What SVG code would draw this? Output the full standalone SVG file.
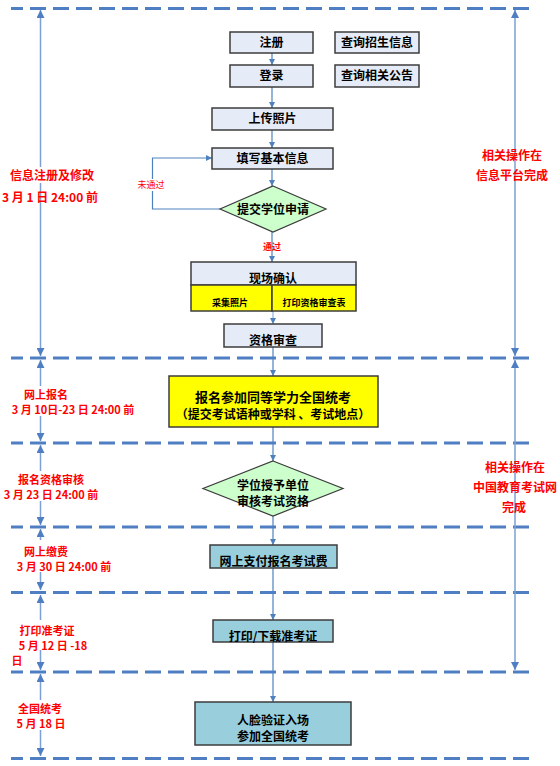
<svg xmlns="http://www.w3.org/2000/svg" width="560" height="766" viewBox="0 0 560 766">
<defs>
<style>
.dash{stroke:#4F7EC2;stroke-width:3;stroke-dasharray:16 7;stroke-dashoffset:4;fill:none}
.span{stroke:#7B9FD6;stroke-width:1.5;fill:none;marker-start:url(#ah);marker-end:url(#ah)}
.con{stroke:#4F81BD;stroke-width:1.2;fill:none;marker-end:url(#sa)}
.box{fill:#E6ECF7;stroke:#3C3C3C;stroke-width:1.5}
.teal{fill:#99CFDD;stroke:#3C3C3C;stroke-width:1.5}
.yel{fill:#FFFF00;stroke:#3C3C3C;stroke-width:1.5}
.dia{fill:#CCFFCC;stroke:#3C3C3C;stroke-width:1.2}
text{font-family:"Noto Sans CJK SC","Noto Sans",sans-serif}
.t{font-size:12px;font-weight:bold;fill:#000;text-anchor:middle}
.t13{font-size:13px;font-weight:bold;fill:#000;text-anchor:middle}
.s{font-size:9px;font-weight:bold;fill:#000;text-anchor:middle}
.r{font-size:12px;font-weight:bold;fill:#FF0000;text-anchor:middle}
.rl{font-size:11px;font-weight:bold;fill:#FF0000;text-anchor:middle}
.rs{font-size:9px;fill:#FF0000;text-anchor:middle}
.wb{fill:#FFFFFF}
</style>
<marker id="ah" viewBox="0 0 8 8" refX="8" refY="4" markerWidth="8" markerHeight="8" markerUnits="userSpaceOnUse" orient="auto-start-reverse"><path d="M0,0 L8,4 L0,8 z" fill="#4F7EC2"/></marker>
<marker id="sa" viewBox="0 0 6 6" refX="6" refY="3" markerWidth="6" markerHeight="6" markerUnits="userSpaceOnUse" orient="auto"><path d="M0,0 L6,3 L0,6 z" fill="#4F81BD"/></marker>
</defs>

<g id="guides">
<line class="dash" x1="11" y1="8.5" x2="534" y2="8.5"/>
<line class="dash" x1="11" y1="358" x2="534" y2="358"/>
<line class="dash" x1="11" y1="443" x2="534" y2="443"/>
<line class="dash" x1="11" y1="527" x2="534" y2="527"/>
<line class="dash" x1="11" y1="592.5" x2="534" y2="592.5"/>
<line class="dash" x1="11" y1="672" x2="534" y2="672"/>
<line class="dash" x1="11" y1="758.5" x2="534" y2="758.5"/>
</g>

<g id="spans">
<line class="span" x1="40.5" y1="10" x2="40.5" y2="356"/>
<line class="span" x1="40.5" y1="360" x2="40.5" y2="441"/>
<line class="span" x1="40.5" y1="445" x2="40.5" y2="525"/>
<line class="span" x1="40.5" y1="529" x2="40.5" y2="590"/>
<line class="span" x1="40.5" y1="595" x2="40.5" y2="670"/>
<line class="span" x1="40.5" y1="674" x2="40.5" y2="756"/>
<line class="span" x1="515" y1="10" x2="515" y2="356"/>
<line class="span" x1="515" y1="360" x2="515" y2="670"/>
</g>

<g id="left-labels">
<rect class="wb" x="10" y="167" width="84" height="16"/>
<text class="r" x="52" y="180">信息注册及修改</text>
<text class="r" x="50" y="202">3 月 1 日 24:00 前</text>
<rect class="wb" x="20" y="386" width="52" height="16"/>
<rect class="wb" x="8" y="402" width="132" height="14"/>
<text class="rl" x="46" y="399">网上报名</text>
<text class="rl" x="73" y="414">3 月 10日-23 日 24:00 前</text>
<rect class="wb" x="14" y="471" width="76" height="30"/>
<text class="rl" x="51" y="484">报名资格审核</text>
<text class="rl" x="51" y="499">3 月 23 日 24:00 前</text>
<rect class="wb" x="20" y="540" width="52" height="32"/>
<text class="rl" x="46" y="556">网上缴费</text>
<text class="rl" x="64" y="571">3 月 30 日 24:00 前</text>
<rect class="wb" x="14" y="620" width="82" height="30"/>
<text class="rl" x="47" y="635">打印准考证</text>
<text class="rl" x="53" y="650">5 月 12 日 -18</text>
<text class="rl" x="17" y="665">日</text>
<rect class="wb" x="14" y="700" width="56" height="30"/>
<text class="rl" x="40" y="713">全国统考</text>
<text class="rl" x="41" y="728">5 月 18 日</text>
</g>

<g id="right-labels">
<text class="r" x="512" y="160">相关操作在</text>
<text class="r" x="512" y="180">信息平台完成</text>
<text class="r" x="515" y="472">相关操作在</text>
<text class="r" x="515" y="492">中国教育考试网</text>
<text class="r" x="514" y="512">完成</text>
</g>

<g id="connectors">
<line class="con" x1="272" y1="53" x2="272" y2="65"/>
<line class="con" x1="272" y1="87" x2="272" y2="108"/>
<line class="con" x1="272" y1="130" x2="272" y2="148"/>
<line class="con" x1="272" y1="169" x2="272" y2="186"/>
<line class="con" x1="272" y1="232" x2="272" y2="262"/>
<line class="con" x1="273" y1="311" x2="273" y2="324" style="stroke:#8DB3E2"/>
<line class="con" x1="273" y1="347" x2="273" y2="376"/>
<line class="con" x1="273" y1="427" x2="273" y2="461"/>
<line class="con" x1="273" y1="516" x2="273" y2="545"/>
<line class="con" x1="273" y1="568" x2="273" y2="620"/>
<line class="con" x1="273" y1="642" x2="273" y2="702"/>
<polyline class="con" points="220,209 152.5,209 152.5,158 212,158"/>
<rect class="wb" x="136" y="179" width="30" height="12"/>
<text class="rs" x="151" y="188">未通过</text>
<text class="rs" x="272" y="250" style="font-weight:bold">通过</text>
</g>

<g id="n-zhuce">
<rect class="box" x="230" y="32" width="83" height="21"/>
<text class="t" x="271.5" y="47">注册</text>
</g>
<g id="n-zhaosheng">
<rect class="box" x="335" y="32" width="84" height="21"/>
<text class="t" x="377" y="47">查询招生信息</text>
</g>
<g id="n-denglu">
<rect class="box" x="230" y="65" width="83" height="22"/>
<text class="t" x="271.5" y="80">登录</text>
</g>
<g id="n-gonggao">
<rect class="box" x="335" y="65" width="84" height="22"/>
<text class="t" x="377" y="80">查询相关公告</text>
</g>
<g id="n-zhaopian">
<rect class="box" x="212" y="108" width="121" height="22"/>
<text class="t" x="272.5" y="123">上传照片</text>
</g>
<g id="n-tianxie">
<rect class="box" x="212" y="148" width="121" height="21"/>
<text class="t" x="272.5" y="163">填写基本信息</text>
</g>
<g id="n-tijiao">
<polygon class="dia" points="273,186 326,209 273,232 220,209"/>
<text class="t" x="273" y="214">提交学位申请</text>
</g>
<g id="n-xianchang">
<rect class="box" x="191" y="262" width="165" height="23"/>
<rect class="yel" x="191" y="285" width="81" height="26"/>
<rect class="yel" x="272" y="285" width="84" height="26"/>
<text class="t" x="273" y="283">现场确认</text>
<text class="s" x="230" y="306">采集照片</text>
<text class="s" x="314" y="306">打印资格审查表</text>
</g>
<g id="n-zige">
<rect class="box" x="224" y="324" width="98" height="23"/>
<text class="t" x="273" y="345">资格审查</text>
</g>
<g id="n-baoming">
<rect class="yel" x="169" y="376" width="209" height="51"/>
<text class="t13" x="273" y="402">报名参加同等学力全国统考</text>
<text class="t" x="273" y="419">（提交考试语种或学科 、考试地点）</text>
</g>
<g id="n-shenhe">
<polygon class="dia" points="273,461 343,488.5 273,516 203,488.5"/>
<text class="t" x="273" y="490">学位授予单位</text>
<text class="t" x="273" y="506">审核考试资格</text>
</g>
<g id="n-zhifu">
<rect class="teal" x="210" y="545" width="127" height="23"/>
<text class="t" x="273.5" y="566">网上支付报名考试费</text>
</g>
<g id="n-zhunkaozheng">
<rect class="teal" x="213" y="620" width="120" height="22"/>
<text class="t" x="273" y="641">打印/下载准考证</text>
</g>
<g id="n-kaoshi">
<rect class="teal" x="195" y="702" width="156" height="43"/>
<text class="t" x="273" y="725">人脸验证入场</text>
<text class="t" x="273" y="741">参加全国统考</text>
</g>
</svg>
